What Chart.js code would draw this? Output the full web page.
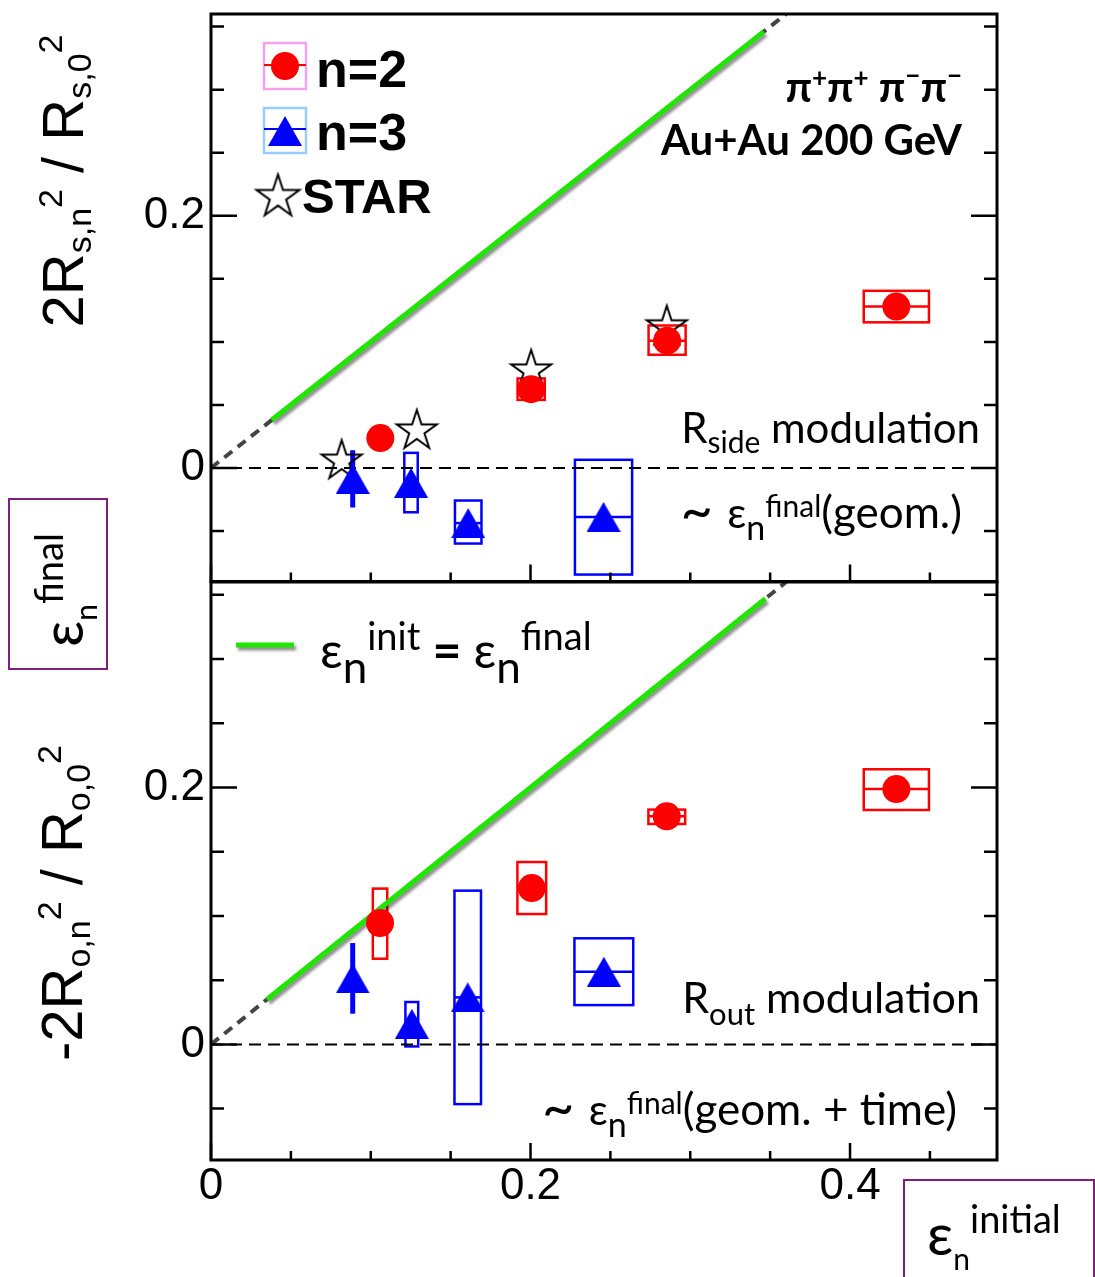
<!DOCTYPE html>
<html lang="en">
<head>
<meta charset="utf-8"/>
<title>HBT radii modulation vs initial eccentricity</title>
<script src="https://cdn.jsdelivr.net/npm/chart.js"></script>
<style>
body { margin: 0; background: #fff; }
.wrap { position: relative; width: 1095px; height: 1277px; overflow: hidden; }
.wrap canvas { position: absolute; left: 0; top: 0; }
</style>
</head>
<body>
<div class="wrap">
  <canvas id="sideChart" width="1095" height="1277"></canvas>
  <canvas id="outChart" width="1095" height="1277"></canvas>
</div>
<script>
const SANS = "'Liberation Sans', Arial, sans-serif";
const CAL = "Lato, 'Open Sans', 'Noto Sans', sans-serif";

// axes: tick marks every 0.05, labels only on the major ones
const xTickVals = [0, 0.05, 0.1, 0.15, 0.2, 0.25, 0.3, 0.35, 0.4, 0.45];
const yTickVals = [-0.05, 0, 0.05, 0.1, 0.15, 0.2, 0.25, 0.3, 0.35];
const majorTicks = [0, 0.2, 0.4];
const xLabelVals = [0, 0.2, 0.4];
const xLabelText = ['0', '0.2', '0.4'];
const yLabelVals = [0, 0.2];
const yLabelText = ['0', '0.2'];

// reference lines (eps_final = eps_init)
const zeroX = [0, 0.5];
const diagX = [0, 0.36];
const greenSideX = [0.038, 0.346];
const greenOutX = [0.035, 0.347];

// R_side panel, n=2
const sideN2X = [0.106, 0.2004, 0.2855, 0.429];
const sideN2Y = [0.0237, 0.0625, 0.101, 0.128];
const sideN2Dx = [0, 0.0085, 0.0116, 0.0204];
const sideN2Lo = [null, 0.054, 0.0898, 0.1155];
const sideN2Hi = [null, 0.071, 0.113, 0.1405];
const sideN2Err = [0, 0, 0, 0];
// R_side panel, n=3
const sideN3X = [0.0887, 0.1252, 0.161, 0.2457];
const sideN3Y = [-0.0086, -0.0117, -0.0437, -0.0388];
const sideN3Dx = [0, 0.0042, 0.0083, 0.0179];
const sideN3Lo = [null, -0.0351, -0.0599, -0.0845];
const sideN3Hi = [null, 0.012, -0.0258, 0.0065];
const sideN3Err = [0.0227, 0, 0, 0];
// STAR
const starX = [0.0818, 0.1288, 0.2004, 0.2853];
const starY = [0.0055, 0.0294, 0.077, 0.112];

// R_out panel, n=2
const outN2X = [0.1058, 0.2008, 0.2853, 0.429];
const outN2Y = [0.0945, 0.1217, 0.1776, 0.1988];
const outN2Dx = [0.0045, 0.009, 0.0115, 0.0204];
const outN2Lo = [0.0667, 0.1015, 0.1716, 0.1825];
const outN2Hi = [0.1213, 0.142, 0.1828, 0.2142];
const outN2Err = [0, 0, 0, 0];
// R_out panel, n=3
const outN3X = [0.0887, 0.1257, 0.1607, 0.2459];
const outN3Y = [0.0514, 0.016, 0.0366, 0.0566];
const outN3Dx = [0, 0.004, 0.0083, 0.0184];
const outN3Lo = [null, -0.0016, -0.0465, 0.0306];
const outN3Hi = [null, 0.033, 0.1197, 0.0826];
const outN3Err = [0.0275, 0, 0, 0];

const RED = '#ff0000', BLUE = '#0000ff', GREEN = '#1fe600', PURPLE = '#7d1f7d';

function pts(xs, ys) { return xs.map((x, i) => ({ x: x, y: ys[i] })); }
function fnt(size, bold, fam) { return (bold ? 'bold ' : '') + size + 'px ' + fam; }

function starCanvas(R, lw) {
  const s = Math.ceil(2 * R + 2 * lw + 2);
  const c = document.createElement('canvas');
  c.width = s; c.height = s;
  const g = c.getContext('2d');
  g.translate(s / 2, s / 2);
  g.beginPath();
  for (let k = 0; k < 10; k++) {
    const r = k % 2 ? R * 0.382 : R;
    const a = -Math.PI / 2 + k * Math.PI / 5;
    g.lineTo(r * Math.cos(a), r * Math.sin(a));
  }
  g.closePath();
  g.lineWidth = lw; g.strokeStyle = '#000'; g.stroke();
  return c;
}
function triCanvas(w, h) {
  const c = document.createElement('canvas');
  c.width = w; c.height = h;
  const g = c.getContext('2d');
  g.beginPath(); g.moveTo(w / 2, 0); g.lineTo(w, h); g.lineTo(0, h); g.closePath();
  g.fillStyle = BLUE; g.fill();
  return c;
}
const starImg = starCanvas(21, 2);
const starLegImg = starCanvas(22.5, 2);
const triImg = triCanvas(34, 30);

// text with sub/superscripts: parts = [{t, f, dy}]
function rich(ctx, x, y, parts, align) {
  let w = 0;
  parts.forEach(p => { ctx.font = p.f; w += ctx.measureText(p.t).width; });
  let cx = align === 'right' ? x - w : align === 'center' ? x - w / 2 : x;
  ctx.textAlign = 'left'; ctx.textBaseline = 'alphabetic'; ctx.fillStyle = '#000';
  parts.forEach(p => {
    ctx.font = p.f;
    ctx.fillText(p.t, cx, y + (p.dy || 0));
    cx += ctx.measureText(p.t).width;
  });
}

function sysPlugin(groups) {
  return {
    id: 'sys',
    beforeDatasetsDraw(chart) {
      const { ctx, scales: { x, y } } = chart;
      ctx.save();
      groups.forEach(g => {
        ctx.strokeStyle = g.color;
        ctx.lineWidth = 2.5;
        g.x.forEach((xv, i) => {
          if (g.lo[i] === null) return;
          const l = x.getPixelForValue(xv - g.dx[i]), r = x.getPixelForValue(xv + g.dx[i]);
          const t = y.getPixelForValue(g.hi[i]), b = y.getPixelForValue(g.lo[i]);
          ctx.strokeRect(l, t, r - l, b - t);
          const yc = y.getPixelForValue(g.y[i]);
          ctx.beginPath(); ctx.moveTo(l, yc); ctx.lineTo(r, yc); ctx.stroke();
        });
        ctx.lineWidth = 5;
        g.err.forEach((e, i) => {
          if (!e) return;
          const xc = x.getPixelForValue(g.x[i]);
          ctx.beginPath();
          ctx.moveTo(xc, y.getPixelForValue(g.y[i] + e));
          ctx.lineTo(xc, y.getPixelForValue(g.y[i] - e));
          ctx.stroke();
        });
      });
      ctx.restore();
    }
  };
}

const framePlugin = {
  id: 'frame',
  beforeDatasetDraw(chart, args) {
    if (chart.data.datasets[args.index].label !== 'green') return;
    const ctx = chart.ctx;
    ctx.save();
    ctx.shadowColor = 'rgba(0,0,0,0.45)';
    ctx.shadowOffsetX = 2; ctx.shadowOffsetY = 3; ctx.shadowBlur = 3;
  },
  afterDatasetDraw(chart, args) {
    if (chart.data.datasets[args.index].label !== 'green') return;
    chart.ctx.restore();
  },
  afterDatasetsDraw(chart) {
    const { ctx, chartArea: a, scales: { x, y } } = chart;
    ctx.save();
    ctx.strokeStyle = '#000';
    ctx.lineWidth = 3;
    ctx.strokeRect(a.left, a.top, a.right - a.left, a.bottom - a.top);
    ctx.lineWidth = 2.5;
    ctx.beginPath();
    yTickVals.forEach(v => {
      const p = y.getPixelForValue(v), len = majorTicks.includes(v) ? 26 : 13;
      ctx.moveTo(a.left, p); ctx.lineTo(a.left + len, p);
      ctx.moveTo(a.right, p); ctx.lineTo(a.right - len, p);
    });
    xTickVals.forEach(v => {
      const p = x.getPixelForValue(v), len = majorTicks.includes(v) ? 17 : 9;
      ctx.moveTo(p, a.bottom); ctx.lineTo(p, a.bottom - len);
    });
    ctx.stroke();
    ctx.restore();
  }
};

function lineSet(label, xs, ys, color, width, dash, order) {
  return { label: label, data: pts(xs, ys), showLine: true, borderColor: color, borderWidth: width,
           borderDash: dash, pointRadius: 0, order: order };
}

function makeChart(id, datasets, padTop, padBottom, showX, plugins) {
  return new Chart(document.getElementById(id), {
    type: 'scatter',
    data: { datasets: datasets },
    options: {
      responsive: false,
      animation: false,
      events: [],
      devicePixelRatio: 1,
      layout: { padding: { left: 0, right: 98, top: padTop, bottom: padBottom } },
      plugins: { legend: { display: false }, tooltip: { enabled: false } },
      scales: {
        x: {
          type: 'linear', min: 0, max: 0.492, display: showX,
          afterBuildTicks: s => { s.ticks = xLabelVals.map(v => ({ value: v })); },
          afterFit: s => { s.height = showX ? 117 : 0; },
          grid: { display: false, drawTicks: false },
          border: { display: false },
          ticks: { autoSkip: false, maxRotation: 0, padding: 0, color: '#000',
                   font: { family: SANS, size: 44 }, callback: (v, i) => xLabelText[i] }
        },
        y: {
          type: 'linear', min: -0.09, max: 0.36,
          afterBuildTicks: s => { s.ticks = yLabelVals.map(v => ({ value: v })); },
          afterFit: s => { s.width = 211; s.paddingTop = 0; s.paddingBottom = 0; },
          grid: { display: false, drawTicks: false },
          border: { display: false },
          ticks: { autoSkip: false, padding: 6, color: '#000',
                   font: { family: SANS, size: 44 }, callback: (v, i) => yLabelText[i] }
        }
      }
    },
    plugins: [framePlugin].concat(plugins)
  });
}

// ---------- top panel: R_side ----------
const sideText = {
  id: 'sideText',
  afterDraw(chart) {
    const ctx = chart.ctx;
    ctx.save();
    // legend
    ctx.lineWidth = 2.5;
    ctx.strokeStyle = '#f7a0f0'; ctx.strokeRect(264, 43, 42, 46);
    ctx.strokeStyle = '#99ccff'; ctx.strokeRect(264, 108, 42, 45);
    ctx.lineWidth = 2;
    ctx.strokeStyle = RED; ctx.beginPath(); ctx.moveTo(264, 65); ctx.lineTo(306, 65); ctx.stroke();
    ctx.strokeStyle = BLUE; ctx.beginPath(); ctx.moveTo(264, 129); ctx.lineTo(306, 129); ctx.stroke();
    ctx.fillStyle = RED; ctx.beginPath(); ctx.arc(285, 66, 14, 0, Math.PI * 2); ctx.fill();
    ctx.drawImage(triImg, 285 - 17, 131 - 15);
    ctx.drawImage(starLegImg, 278 - starLegImg.width / 2, 197 - starLegImg.height / 2);
    rich(ctx, 316, 87, [{ t: 'n=2', f: fnt(52, 1, SANS) }], 'left');
    rich(ctx, 316, 150, [{ t: 'n=3', f: fnt(52, 1, SANS) }], 'left');
    rich(ctx, 302, 213, [{ t: 'STAR', f: fnt(49, 1, SANS) }], 'left');

    rich(ctx, 962, 102, [
      { t: 'π', f: fnt(42, 1, CAL) }, { t: '+', f: fnt(26, 1, CAL), dy: -15 },
      { t: 'π', f: fnt(42, 1, CAL) }, { t: '+', f: fnt(26, 1, CAL), dy: -15 },
      { t: ' π', f: fnt(42, 1, CAL) }, { t: '−', f: fnt(26, 1, CAL), dy: -17 },
      { t: 'π', f: fnt(42, 1, CAL) }, { t: '−', f: fnt(26, 1, CAL), dy: -17 }
    ], 'right');
    rich(ctx, 962, 155, [{ t: 'Au+Au 200 GeV', f: fnt(42, 1, CAL) }], 'right');

    rich(ctx, 980, 443, [
      { t: 'R', f: fnt(42, 0, CAL) }, { t: 'side', f: fnt(30, 0, CAL), dy: 10 },
      { t: ' modulation', f: fnt(42, 0, CAL) }
    ], 'right');
    rich(ctx, 962, 528, [
      { t: '~ ', f: fnt(56, 0, CAL), dy: 2 }, { t: 'ε', f: fnt(42, 0, CAL) },
      { t: 'n', f: fnt(34, 0, CAL), dy: 12 }, { t: 'final', f: fnt(30, 0, CAL), dy: -11 },
      { t: '(geom.)', f: fnt(44, 0, CAL) }
    ], 'right');

    // y title
    ctx.translate(83, 181);
    ctx.rotate(-Math.PI / 2);
    rich(ctx, 0, 0, [
      { t: '2R', f: fnt(58, 0, SANS) }, { t: 's,n', f: fnt(34, 0, SANS), dy: 8 },
      { t: '2', f: fnt(34, 0, SANS), dy: -21 }, { t: ' / R', f: fnt(58, 0, SANS) },
      { t: 's,0', f: fnt(34, 0, SANS), dy: 8 }, { t: '2', f: fnt(34, 0, SANS), dy: -21 }
    ], 'center');
    ctx.restore();

    // boxed eps_final label on the left
    ctx.save();
    ctx.strokeStyle = PURPLE; ctx.lineWidth = 2;
    ctx.strokeRect(9, 499, 98, 170);
    ctx.translate(83, 647);
    ctx.rotate(-Math.PI / 2);
    rich(ctx, 0, 0, [
      { t: 'ε', f: fnt(58, 0, CAL) }, { t: 'n', f: fnt(30, 0, CAL), dy: 14 },
      { t: 'final', f: fnt(38, 0, CAL), dy: -20 }
    ], 'left');
    ctx.restore();
  }
};

makeChart('sideChart', [
  lineSet('zero', zeroX, [0, 0], '#000', 2, [12, 7], 10),
  lineSet('diag', diagX, diagX, '#444', 4, [10, 7], 9),
  lineSet('green', greenSideX, greenSideX, GREEN, 5, [], 8),
  { label: 'STAR', data: pts(starX, starY), pointStyle: starImg, order: 5 },
  { label: 'n=3', data: pts(sideN3X, sideN3Y), pointStyle: triImg, order: 3 },
  { label: 'n=2', data: pts(sideN2X, sideN2Y), pointStyle: 'circle', pointRadius: 14,
    backgroundColor: RED, borderWidth: 0, order: 1 }
], 5, 1277 - 581.5, false, [
  sysPlugin([
    { color: RED, x: sideN2X, y: sideN2Y, dx: sideN2Dx, lo: sideN2Lo, hi: sideN2Hi, err: sideN2Err },
    { color: BLUE, x: sideN3X, y: sideN3Y, dx: sideN3Dx, lo: sideN3Lo, hi: sideN3Hi, err: sideN3Err }
  ]),
  sideText
]);

// ---------- bottom panel: R_out ----------
const outText = {
  id: 'outText',
  afterDraw(chart) {
    const ctx = chart.ctx;
    ctx.save();
    // legend for the eps_init = eps_final line
    ctx.save();
    ctx.shadowColor = 'rgba(0,0,0,0.45)';
    ctx.shadowOffsetX = 2; ctx.shadowOffsetY = 3; ctx.shadowBlur = 3;
    ctx.strokeStyle = GREEN; ctx.lineWidth = 5;
    ctx.beginPath(); ctx.moveTo(236, 645); ctx.lineTo(294, 645); ctx.stroke();
    ctx.restore();
    rich(ctx, 320, 668, [
      { t: 'ε', f: fnt(50, 0, CAL) }, { t: 'n', f: fnt(44, 0, CAL), dy: 15 },
      { t: 'init', f: fnt(38, 0, CAL), dy: -18 }, { t: ' = ', f: fnt(50, 1, CAL) },
      { t: 'ε', f: fnt(50, 0, CAL) }, { t: 'n', f: fnt(44, 0, CAL), dy: 15 },
      { t: 'final', f: fnt(38, 0, CAL), dy: -18 }
    ], 'left');

    rich(ctx, 980, 1013, [
      { t: 'R', f: fnt(43, 0, CAL) }, { t: 'out', f: fnt(31, 0, CAL), dy: 12 },
      { t: ' modulation', f: fnt(43, 0, CAL) }
    ], 'right');
    rich(ctx, 957, 1125, [
      { t: '~ ', f: fnt(56, 0, CAL), dy: 2 }, { t: 'ε', f: fnt(42, 0, CAL) },
      { t: 'n', f: fnt(34, 0, CAL), dy: 12 }, { t: 'final', f: fnt(30, 0, CAL), dy: -11 },
      { t: '(geom. + time)', f: fnt(44, 0, CAL) }
    ], 'right');

    // y title
    ctx.translate(82, 903);
    ctx.rotate(-Math.PI / 2);
    rich(ctx, 0, 0, [
      { t: '-2R', f: fnt(58, 0, SANS) }, { t: 'o,n', f: fnt(34, 0, SANS), dy: 8 },
      { t: '2', f: fnt(34, 0, SANS), dy: -21 }, { t: ' / R', f: fnt(58, 0, SANS) },
      { t: 'o,0', f: fnt(34, 0, SANS), dy: 8 }, { t: '2', f: fnt(34, 0, SANS), dy: -21 }
    ], 'center');
    ctx.restore();

    // boxed eps_initial label, x-axis title
    ctx.save();
    ctx.strokeStyle = PURPLE; ctx.lineWidth = 2;
    ctx.strokeRect(904, 1180, 190, 120);
    rich(ctx, 927, 1255, [
      { t: 'ε', f: fnt(58, 0, CAL) }, { t: 'n', f: fnt(30, 0, CAL), dy: 15 },
      { t: 'initial', f: fnt(38, 0, CAL), dy: -22 }
    ], 'left');
    ctx.restore();
  }
};

makeChart('outChart', [
  lineSet('zero', zeroX, [0, 0], '#000', 2, [12, 7], 10),
  lineSet('diag', diagX, diagX, '#444', 4, [10, 7], 9),
  lineSet('green', greenOutX, greenOutX, GREEN, 5, [], 8),
  { label: 'n=3', data: pts(outN3X, outN3Y), pointStyle: triImg, order: 3 },
  { label: 'n=2', data: pts(outN2X, outN2Y), pointStyle: 'circle', pointRadius: 14,
    backgroundColor: RED, borderWidth: 0, order: 1 }
], 582, 0, true, [
  sysPlugin([
    { color: RED, x: outN2X, y: outN2Y, dx: outN2Dx, lo: outN2Lo, hi: outN2Hi, err: outN2Err },
    { color: BLUE, x: outN3X, y: outN3Y, dx: outN3Dx, lo: outN3Lo, hi: outN3Hi, err: outN3Err }
  ]),
  outText
]);
</script>
</body>
</html>
